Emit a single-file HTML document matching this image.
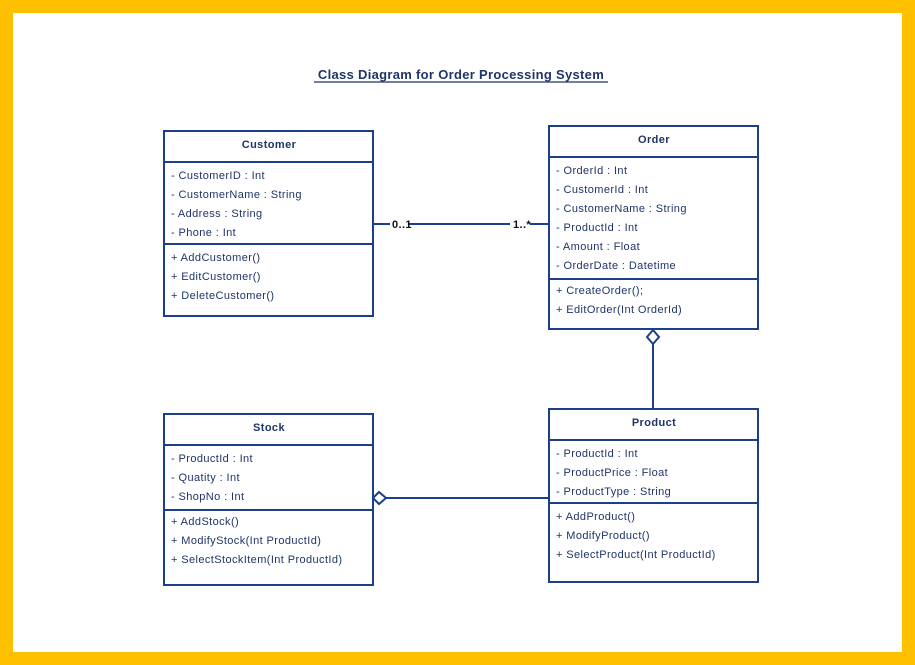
<!DOCTYPE html>
<html><head><style>
html,body{margin:0;padding:0;background:#FFC000;}
svg{display:block;}
text{font-family:"Liberation Sans",sans-serif;font-size:11px;fill:#1f3468;letter-spacing:0.4px;}
.b{font-weight:bold;}
</style></head><body>
<svg width="915" height="665" viewBox="0 0 915 665">
<rect x="0" y="0" width="915" height="665" fill="#FFC000"/>
<rect x="13" y="13" width="889" height="639" fill="#fff"/>
<text x="461" y="79" class="b" text-anchor="middle" style="font-size:13px;letter-spacing:0.3px">Class Diagram for Order Processing System</text>
<line x1="314" y1="82" x2="608" y2="82" stroke="#1f3468" stroke-width="1.3"/>
<g fill="none" stroke="#1c3f8c" stroke-width="2">
<rect x="164" y="131" width="209" height="185"/><line x1="164" y1="162" x2="373" y2="162"/><line x1="164" y1="244" x2="373" y2="244"/>
<rect x="549" y="126" width="209" height="203"/><line x1="549" y1="157" x2="758" y2="157"/><line x1="549" y1="279" x2="758" y2="279"/>
<rect x="164" y="414" width="209" height="171"/><line x1="164" y1="445" x2="373" y2="445"/><line x1="164" y1="510" x2="373" y2="510"/>
<rect x="549" y="409" width="209" height="173"/><line x1="549" y1="440" x2="758" y2="440"/><line x1="549" y1="503" x2="758" y2="503"/>
<line x1="373" y1="224" x2="390" y2="224"/><line x1="408" y1="224" x2="510" y2="224"/><line x1="530" y1="224" x2="549" y2="224"/>
<line x1="653" y1="344" x2="653" y2="409"/>
<polygon points="653,330 659,337 653,344 647,337" fill="#fff"/>
<line x1="386" y1="498" x2="549" y2="498"/>
<polygon points="373,498 379,492 386,498 379,504" fill="#fff"/>
</g>
<text x="392" y="228" class="b" style="fill:#111">0..1</text>
<text x="513" y="228" class="b" style="fill:#111">1..*</text>
<text x="269" y="148" class="b" text-anchor="middle">Customer</text>
<text x="171" y="179">- CustomerID : Int</text>
<text x="171" y="198">- CustomerName : String</text>
<text x="171" y="217">- Address : String</text>
<text x="171" y="236">- Phone : Int</text>
<text x="171" y="261">+ AddCustomer()</text>
<text x="171" y="280">+ EditCustomer()</text>
<text x="171" y="299">+ DeleteCustomer()</text>
<text x="654" y="143" class="b" text-anchor="middle">Order</text>
<text x="556" y="174">- OrderId : Int</text>
<text x="556" y="193">- CustomerId : Int</text>
<text x="556" y="212">- CustomerName : String</text>
<text x="556" y="231">- ProductId : Int</text>
<text x="556" y="250">- Amount : Float</text>
<text x="556" y="269">- OrderDate : Datetime</text>
<text x="556" y="294">+ CreateOrder();</text>
<text x="556" y="313">+ EditOrder(Int OrderId)</text>
<text x="269" y="431" class="b" text-anchor="middle">Stock</text>
<text x="171" y="462">- ProductId : Int</text>
<text x="171" y="481">- Quatity : Int</text>
<text x="171" y="500">- ShopNo : Int</text>
<text x="171" y="525">+ AddStock()</text>
<text x="171" y="544">+ ModifyStock(Int ProductId)</text>
<text x="171" y="563">+ SelectStockItem(Int ProductId)</text>
<text x="654" y="426" class="b" text-anchor="middle">Product</text>
<text x="556" y="457">- ProductId : Int</text>
<text x="556" y="476">- ProductPrice : Float</text>
<text x="556" y="495">- ProductType : String</text>
<text x="556" y="520">+ AddProduct()</text>
<text x="556" y="539">+ ModifyProduct()</text>
<text x="556" y="558">+ SelectProduct(Int ProductId)</text>
</svg>
</body></html>
